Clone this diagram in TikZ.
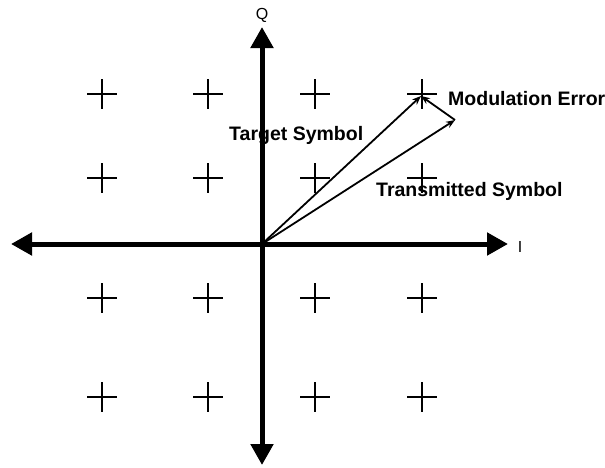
\documentclass[tikz,border=0pt]{standalone}
\usepackage{fontspec}
\setmainfont{Liberation Sans}
\usetikzlibrary{arrows.meta}

\begin{document}
\begin{tikzpicture}[
        x=1pt, y=-1pt,
        axis/.style={line width=5pt, {Triangle[length=21pt, width=22pt]}-{Triangle[length=21pt, width=22pt]}},
        vec/.style={line width=1.8pt, -{Stealth[length=9pt, width=7pt]}},
        pnt/.style={line width=2.6pt},
        lbl/.style={font=\bfseries\fontsize{19.5}{22}\selectfont, inner sep=0pt},
        axlbl/.style={font=\fontsize{16}{18}\selectfont, inner sep=0pt}
    ]
        \useasboundingbox (0,0) rectangle (605,467);

        % constellation points
        \foreach \x in {102, 208, 315, 422}
            \foreach \y in {94, 178, 298, 397}
                \draw[pnt] (\x-15,\y) -- (\x+15,\y) (\x,\y-15) -- (\x,\y+15);

        \coordinate (o)     at (262, 244);
        \coordinate (left)  at ( 11, 244);
        \coordinate (right) at (508, 244);
        \coordinate (top)   at (262,  27);
        \coordinate (bot)   at (262, 465);
        \coordinate (tgt)   at (421,  96);
        \coordinate (tx)    at (455, 120);

        \draw[axis] (left) -- (right);
        \draw[axis] (bot)  -- (top);

        \node[axlbl] (q) at (262,  15) {Q};
        \node[axlbl] (i) at (520, 247) {I};

        \draw[vec] (o)  -- (tgt);
        \draw[vec] (o)  -- (tx);
        \draw[vec] (tx) -- (tgt);

        \node[lbl, anchor=west] (err)  at (448,  99) {Modulation Error};
        \node[lbl, anchor=west] (tsym) at (229, 135) {Target Symbol};
        \node[lbl, anchor=west] (xsym) at (376, 191) {Transmitted Symbol};
    \end{tikzpicture}
\end{document}
